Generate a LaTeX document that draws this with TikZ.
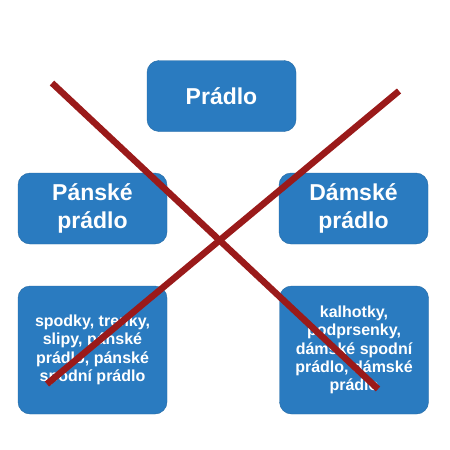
\documentclass[tikz,border=0pt]{standalone}
\usepackage{fontspec}
\setmainfont{Liberation Sans}
\usepackage{tikz}
\usetikzlibrary{positioning}
\usepackage{xcolor}
\definecolor{boxblue}{HTML}{2A7BC0}
\definecolor{crossred}{HTML}{9A1A1A}

\begin{document}
\begin{tikzpicture}[x=1pt,y=-1pt,
    box/.style={draw=boxblue!85!black, fill=boxblue, rounded corners=12pt,
        text=white, font=\bfseries, align=center, inner sep=2pt},
    bigbox/.style={box, minimum width=149pt, minimum height=71pt, font=\bfseries\fontsize{23}{28}\selectfont},
    listbox/.style={box, minimum width=149pt, minimum height=128pt, font=\bfseries\fontsize{16}{18.3}\selectfont},
    cross/.style={crossred, line width=6.5pt}]
        \useasboundingbox (0,0) rectangle (450,450);

        % Boxes
        \node[bigbox] (pradlo) at (221.5, 96) {Prádlo};
        \node[bigbox] (panske) at (92.5, 208.5) {Pánské\\prádlo};
        \node[bigbox] (damske) at (353.5, 208.5) {Dámské\\prádlo};
        \node[listbox] (panskelist) at (92.5, 350) {spodky, trenky,\\slipy, pánské\\prádlo, pánské\\spodní prádlo};
        \node[listbox] (damskelist) at (354, 350) {kalhotky,\\podprsenky,\\dámské spodní\\prádlo, dámské\\prádlo};

        % Cross
        \coordinate (c1) at (52, 83);
        \coordinate (c2) at (378, 389);
        \coordinate (c3) at (399, 91);
        \coordinate (c4) at (47, 384);
        \draw[cross] (c1) -- (c2);
        \draw[cross] (c3) -- (c4);
    \end{tikzpicture}
\end{document}
